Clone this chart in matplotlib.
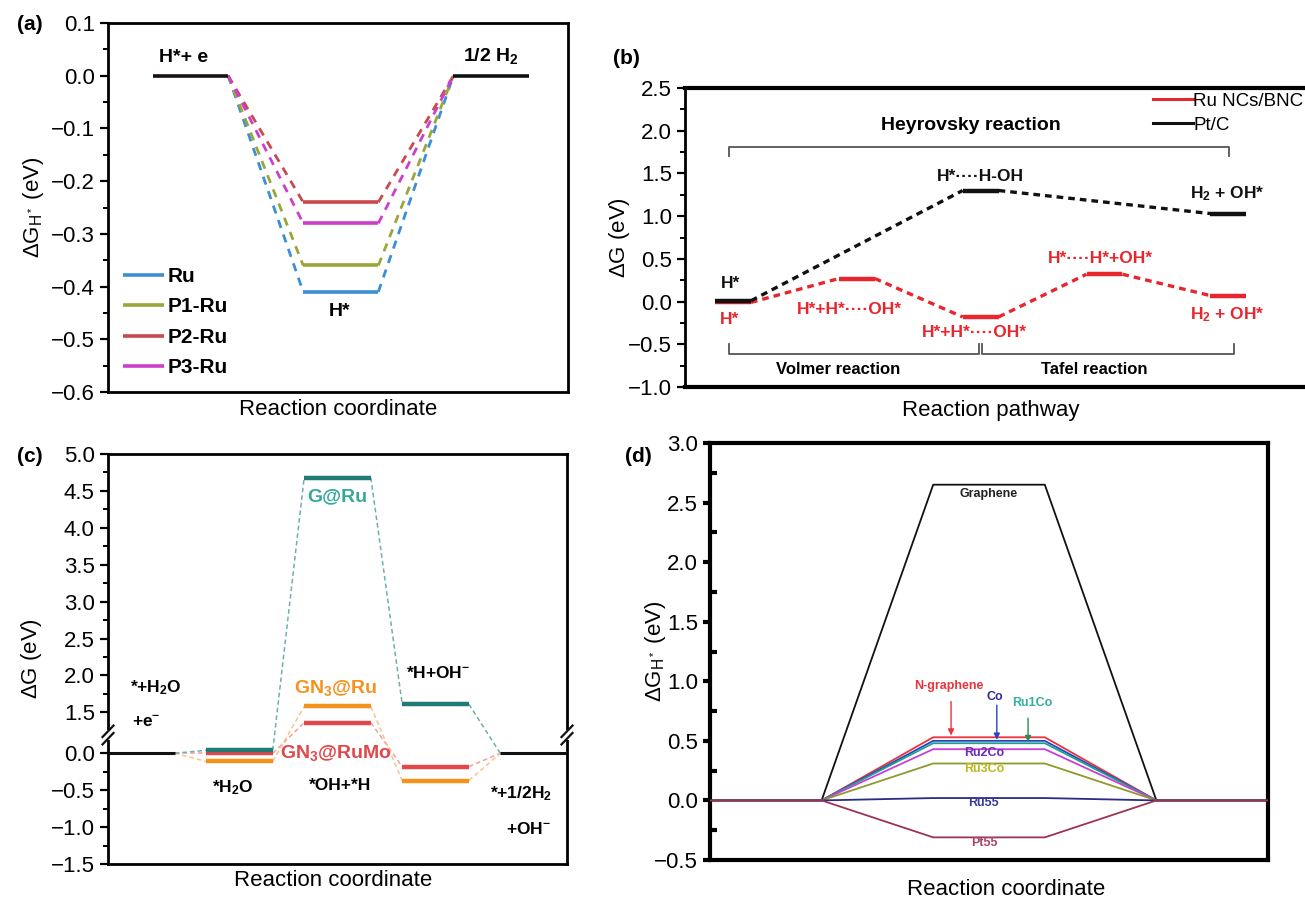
import numpy as np
import matplotlib
matplotlib.use("Agg")
import matplotlib.pyplot as plt
from matplotlib.ticker import MultipleLocator, FixedLocator, NullLocator
from matplotlib.lines import Line2D

plt.rcParams['font.family'] = ['Liberation Sans', 'DejaVu Sans']
plt.rcParams['mathtext.fontset'] = 'custom'
plt.rcParams['mathtext.rm'] = 'Liberation Sans'
plt.rcParams['mathtext.it'] = 'Liberation Sans:italic'
plt.rcParams['mathtext.bf'] = 'Liberation Sans:bold'

# ---------------- data ----------------
# (a)
a_names = ['Ru', 'P1-Ru', 'P2-Ru', 'P3-Ru']
a_hstar = [-0.41, -0.36, -0.24, -0.28]
a_colors = ['#3b8fd4', '#9aa63a', '#c8494e', '#cc3fcc']

# (b)
b_ru_steps = [0, 1, 2, 3, 4]
b_ru_levels = [-0.01, 0.27, -0.18, 0.32, 0.07]
b_pt_steps = [0, 2, 4]
b_pt_levels = [0.01, 1.30, 1.03]

# (c)
c_steps = [0, 1, 2, 3, 4]
c_g_ru = [0.0, 0.04, 4.68, 1.61, 0.0]
c_gn3_ru = [0.0, -0.11, 1.58, -0.37, 0.0]
c_gn3_rumo = [0.0, 0.0, 1.36, -0.18, 0.0]

# (d)
d_names = ['Graphene', 'N-graphene', 'Co', 'Ru1Co', 'Ru2Co', 'Ru3Co', 'Ru55', 'Pt55']
d_values = [2.65, 0.53, 0.50, 0.48, 0.43, 0.31, 0.02, -0.31]
d_line_colors = ['#111111', '#e8343a', '#2a45c0', '#1ea090', '#c63fd6', '#8e9a2c', '#2b2b85', '#9c3552']
d_text_colors = ['#222222', '#e8343a', '#2d2d9e', '#35b0a0', '#6b2db4', '#b8b820', '#3a3a9c', '#a84466']

W, H = 1305, 899
fig = plt.figure(figsize=(W / 100, H / 100), dpi=100)


def px_axes(l, t, r, b):
    return fig.add_axes([l / W, 1 - b / H, (r - l) / W, (b - t) / H])


TICK_FS = 16

def style_axes(ax, lw=2.0):
    for s in ax.spines.values():
        s.set_linewidth(lw)
    ax.xaxis.set_major_locator(NullLocator())
    ax.xaxis.set_minor_locator(NullLocator())
    ax.tick_params(axis='y', which='major', direction='out', length=6, width=1.6,
                   labelsize=TICK_FS, right=False)
    ax.tick_params(axis='y', which='minor', direction='out', length=3.5, width=1.4, right=False)


# ---------------- (a) ----------------
axa = px_axes(108, 23, 568, 392)
hw = 0.25
for name, v, c in zip(a_names, a_hstar, a_colors):
    axa.plot([1 - hw, 1 + hw], [v, v], color=c, lw=2.6, solid_capstyle='butt', label=name)
    axa.plot([hw, 1 - hw], [0, v], color=c, lw=2.0, ls=(0, (3, 2.5)))
    axa.plot([1 + hw, 2 - hw], [v, 0], color=c, lw=2.0, ls=(0, (3, 2.5)))
axa.plot([-hw, hw], [0, 0], color='#1a1010', lw=2.6, solid_capstyle='butt')
axa.plot([2 - hw, 2 + hw], [0, 0], color='#111111', lw=2.6, solid_capstyle='butt')
axa.set_xlim(-0.55, 2.513)
axa.set_ylim(-0.6, 0.1)
style_axes(axa)
axa.yaxis.set_major_locator(MultipleLocator(0.1))
axa.yaxis.set_minor_locator(MultipleLocator(0.05))
axa.text(-0.05, 0.018, 'H*+ e', fontsize=14, fontweight='bold', ha='center', va='bottom')
axa.text(2.0, 0.018, '1/2 H$_\\mathbf{2}$', fontsize=14, fontweight='bold', ha='center', va='bottom')
axa.text(0.99, -0.448, 'H*', fontsize=14, fontweight='bold', ha='center', va='center')
axa.legend(loc='lower left', bbox_to_anchor=(0.0, 0.0), frameon=False,
           prop={'weight': 'bold', 'size': 15}, handlelength=2.0, handletextpad=0.15,
           labelspacing=0.55, borderaxespad=0.3)
axa.set_ylabel('$\\Delta$G$_\\mathregular{H^*}$ (eV)', fontsize=16)
axa.yaxis.set_label_coords(-0.135, 0.5)
axa.set_xlabel('Reaction coordinate', fontsize=16)
axa.xaxis.set_label_coords(0.5, -0.02)

# ---------------- (b) ----------------
axb = px_axes(685, 88, 1310, 387)
hwb = 0.145
red = '#e8262d'
for s, v in zip(b_ru_steps, b_ru_levels):
    axb.plot([s - hwb, s + hwb], [v, v], color=red, lw=3.2, solid_capstyle='butt')
for i in range(len(b_ru_steps) - 1):
    axb.plot([b_ru_steps[i] + hwb, b_ru_steps[i + 1] - hwb], [b_ru_levels[i], b_ru_levels[i + 1]],
             color=red, lw=2.4, ls=(0, (2, 1.5)))
for s, v in zip(b_pt_steps, b_pt_levels):
    axb.plot([s - hwb, s + hwb], [v, v], color='#111111', lw=3.2, solid_capstyle='butt')
for i in range(len(b_pt_steps) - 1):
    axb.plot([b_pt_steps[i] + hwb, b_pt_steps[i + 1] - hwb], [b_pt_levels[i], b_pt_levels[i + 1]],
             color='#111111', lw=2.4, ls=(0, (2, 1.5)))
axb.set_xlim(-0.388, 4.66)
axb.set_ylim(-1.0, 2.5)
style_axes(axb)
axb.spines['top'].set_linewidth(3)
axb.spines['bottom'].set_linewidth(3)
axb.yaxis.set_major_locator(MultipleLocator(0.5))
axb.yaxis.set_minor_locator(MultipleLocator(0.25))
gray = '#555555'
# brackets
axb.plot([-0.035, -0.035, 4.006, 4.006], [1.70, 1.81, 1.81, 1.70], color=gray, lw=1.3)
axb.plot([-0.035, -0.035, 1.99, 1.99], [-0.5, -0.615, -0.615, -0.5], color=gray, lw=1.3)
axb.plot([2.01, 2.01, 4.045, 4.045], [-0.5, -0.615, -0.615, -0.5], color=gray, lw=1.3)
bfs = 12.5
axb.text(1.92, 2.06, 'Heyrovsky reaction', fontsize=14, fontweight='bold', ha='center', va='center')
axb.text(0.85, -0.79, 'Volmer reaction', fontsize=12, fontweight='bold', ha='center', va='center')
axb.text(2.92, -0.79, 'Tafel reaction', fontsize=12, fontweight='bold', ha='center', va='center')
axb.text(-0.02, 0.21, 'H*', fontsize=bfs, fontweight='bold', ha='center', va='center', color='#111111')
axb.text(-0.03, -0.21, 'H*', fontsize=bfs, fontweight='bold', ha='center', va='center', color=red)
axb.text(0.94, -0.09, 'H*+H*\u00b7\u00b7\u00b7\u00b7OH*', fontsize=bfs, fontweight='bold', ha='center', va='center', color=red)
axb.text(1.95, -0.36, 'H*+H*\u00b7\u00b7\u00b7\u00b7OH*', fontsize=bfs, fontweight='bold', ha='center', va='center', color=red)
axb.text(2.97, 0.51, 'H*\u00b7\u00b7\u00b7\u00b7H*+OH*', fontsize=bfs, fontweight='bold', ha='center', va='center', color=red)
axb.text(3.99, -0.15, 'H$_\\mathbf{2}$ + OH*', fontsize=bfs, fontweight='bold', ha='center', va='center', color=red)
axb.text(2.0, 1.46, 'H*\u00b7\u00b7\u00b7\u00b7H-OH', fontsize=bfs, fontweight='bold', ha='center', va='center', color='#111111')
axb.text(3.99, 1.26, 'H$_\\mathbf{2}$ + OH*', fontsize=bfs, fontweight='bold', ha='center', va='center', color='#111111')
hb = [Line2D([], [], color=red, lw=2.2), Line2D([], [], color='#111111', lw=2.2)]
axb.legend(hb, ['Ru NCs/BNC', 'Pt/C'], loc='upper left', bbox_to_anchor=(0.722, 1.04), frameon=False,
           fontsize=13.5, handlelength=2.1, handletextpad=0.05, labelspacing=0.35)
axb.set_ylabel('$\\Delta$G (eV)', fontsize=16)
axb.yaxis.set_label_coords(-0.085, 0.5)
axb.set_xlabel('Reaction pathway', fontsize=16)
axb.xaxis.set_label_coords(0.49, -0.045)

# ---------------- (c) ----------------
axc = px_axes(108, 454, 567, 864)
b0, b1, dgap = 0.26, 1.21, 0.946


def fwd(y):
    y = np.asarray(y, dtype=float)
    mid = b0 + (y - b0) * (b1 - dgap - b0) / (b1 - b0)
    return np.where(y <= b0, y, np.where(y >= b1, y - dgap, mid))


def inv(z):
    z = np.asarray(z, dtype=float)
    mid = b0 + (z - b0) * (b1 - b0) / (b1 - dgap - b0)
    return np.where(z <= b0, z, np.where(z >= b1 - dgap, z + dgap, mid))


axc.set_yscale('function', functions=(fwd, inv))
hwc = 0.34
teal_l, teal_t = '#1f7c74', '#35a89c'
orange = '#f4921e'
redc = '#e2474b'
series_c = [(c_gn3_rumo, redc, '#f0a0a0'), (c_gn3_ru, orange, '#f7c58a'), (c_g_ru, teal_l, '#6fb0aa')]
for vals, col, dcol in series_c:
    for i in range(1, len(c_steps) - 1):
        axc.plot([c_steps[i] - hwc, c_steps[i] + hwc], [vals[i], vals[i]], color=col, lw=3.2,
                 solid_capstyle='butt', zorder=3)
    for i in range(len(c_steps) - 1):
        axc.plot([c_steps[i] + hwc, c_steps[i + 1] - hwc], [vals[i], vals[i + 1]], color=dcol,
                 lw=1.1, ls=(0, (3, 2)), zorder=2)
axc.plot([-hwc, hwc], [c_g_ru[0], c_g_ru[0]], color='#111111', lw=2.2, solid_capstyle='butt', zorder=4)
axc.plot([4 - hwc, 4 + hwc], [c_g_ru[-1], c_g_ru[-1]], color='#111111', lw=2.2, solid_capstyle='butt', zorder=4)
axc.set_xlim(-0.34, 4.34)
axc.set_ylim(-1.5, 5.0)
style_axes(axc)
maj = [-1.5, -1.0, -0.5, 0.0, 1.5, 2.0, 2.5, 3.0, 3.5, 4.0, 4.5, 5.0]
mnr = [-1.25, -0.75, -0.25, 0.25, 1.25, 1.75, 2.25, 2.75, 3.25, 3.75, 4.25, 4.75]
axc.yaxis.set_major_locator(FixedLocator(maj))
axc.yaxis.set_minor_locator(FixedLocator(mnr))
axc.set_yticklabels(['%.1f' % v if v >= 0 else '\u2212%.1f' % abs(v) for v in maj])
# break marks
yf = (864 - 735) / 410
for xf in (0.0, 1.0):
    axc.add_patch(plt.Rectangle((xf - 0.01, yf - 0.012), 0.02, 0.024, transform=axc.transAxes,
                                facecolor='white', edgecolor='none', clip_on=False, zorder=5))
    for dd in (-0.009, 0.009):
        axc.plot([xf - 0.012, xf + 0.012], [yf + dd - 0.014, yf + dd + 0.014], transform=axc.transAxes,
                 color='#111111', lw=1.6, clip_on=False, zorder=6)
cfs = 12.5
axc.text(0.15, 1.84, '*+H$_\\mathbf{2}$O', fontsize=cfs, fontweight='bold', ha='center', va='center')
axc.text(0.05, 1.37, '+e$^\\mathbf{-}$', fontsize=cfs, fontweight='bold', ha='center', va='center')
axc.text(0.93, -0.46, '*H$_\\mathbf{2}$O', fontsize=cfs, fontweight='bold', ha='center', va='center')
axc.text(2.03, -0.44, '*OH+*H', fontsize=cfs, fontweight='bold', ha='center', va='center')
axc.text(3.03, 2.04, '*H+OH$^\\mathbf{-}$', fontsize=cfs, fontweight='bold', ha='center', va='center')
axc.text(3.87, -0.55, '*+1/2H$_\\mathbf{2}$', fontsize=cfs, fontweight='bold', ha='center', va='center')
axc.text(3.95, -1.03, '+OH$^\\mathbf{-}$', fontsize=cfs, fontweight='bold', ha='center', va='center')
axc.text(2.0, 4.42, 'G@Ru', fontsize=14, fontweight='bold', ha='center', va='center', color=teal_t)
axc.text(1.98, 1.83, 'GN$_\\mathbf{3}$@Ru', fontsize=14, fontweight='bold', ha='center', va='center', color=orange)
axc.text(1.98, 0.01, 'GN$_\\mathbf{3}$@RuMo', fontsize=14, fontweight='bold', ha='center', va='center', color=redc)
axc.set_ylabel('$\\Delta$G (eV)', fontsize=16)
axc.yaxis.set_label_coords(-0.14, 0.5)
axc.set_xlabel('Reaction coordinate', fontsize=16)
axc.xaxis.set_label_coords(0.49, -0.015)

# ---------------- (d) ----------------
axd = px_axes(710, 443, 1268, 860)
xd = [-1, 0, 1, 2, 3, 4]
order = [0, 5, 4, 3, 2, 1, 6, 7]
for i in order:
    v = d_values[i]
    axd.plot(xd, [0, 0, v, v, 0, 0], color=d_line_colors[i], lw=1.3, zorder=2 + i * 0.1)
axd.set_xlim(-1, 4)
axd.set_ylim(-0.5, 3.0)
style_axes(axd, lw=3.0)
axd.yaxis.set_major_locator(MultipleLocator(0.5))
axd.yaxis.set_minor_locator(MultipleLocator(0.25))
axd.tick_params(axis='y', which='major', direction='out', length=5, width=3)
axd.tick_params(axis='y', which='minor', direction='in', length=5, width=3)
d_label_pos = [(1.50, 2.57), (1.14, 0.96), (1.55, 0.87), (1.89, 0.82), (1.46, 0.40), (1.46, 0.26),
               (1.45, -0.02), (1.46, -0.36)]
for name, (x, y), c in zip(d_names, d_label_pos, d_text_colors):
    axd.text(x, y, name, fontsize=9, fontweight='bold', color=c, ha='center', va='center')
arrows = [(1.16, 0.83, 0.545, d_line_colors[1]), (1.57, 0.80, 0.51, d_line_colors[2]),
          (1.85, 0.69, 0.49, '#2e8a4e')]
for x, y0, y1, c in arrows:
    axd.annotate('', xy=(x, y1), xytext=(x, y0),
                 arrowprops=dict(arrowstyle='-|>', color=c, lw=1.0, mutation_scale=9, shrinkA=0, shrinkB=0))
axd.set_ylabel('$\\Delta$G$_\\mathregular{H^*}$ (eV)', fontsize=16)
axd.yaxis.set_label_coords(-0.075, 0.5)
axd.set_xlabel('Reaction coordinate', fontsize=16)
axd.xaxis.set_label_coords(0.53, -0.045)

# panel labels
for lab, x, y in [('(a)', 17, 25), ('(b)', 613, 58), ('(c)', 17, 457), ('(d)', 625, 457)]:
    fig.text(x / W, 1 - y / H, lab, fontsize=15, fontweight='bold', ha='left', va='center')

fig.savefig('out.png', dpi=100)
